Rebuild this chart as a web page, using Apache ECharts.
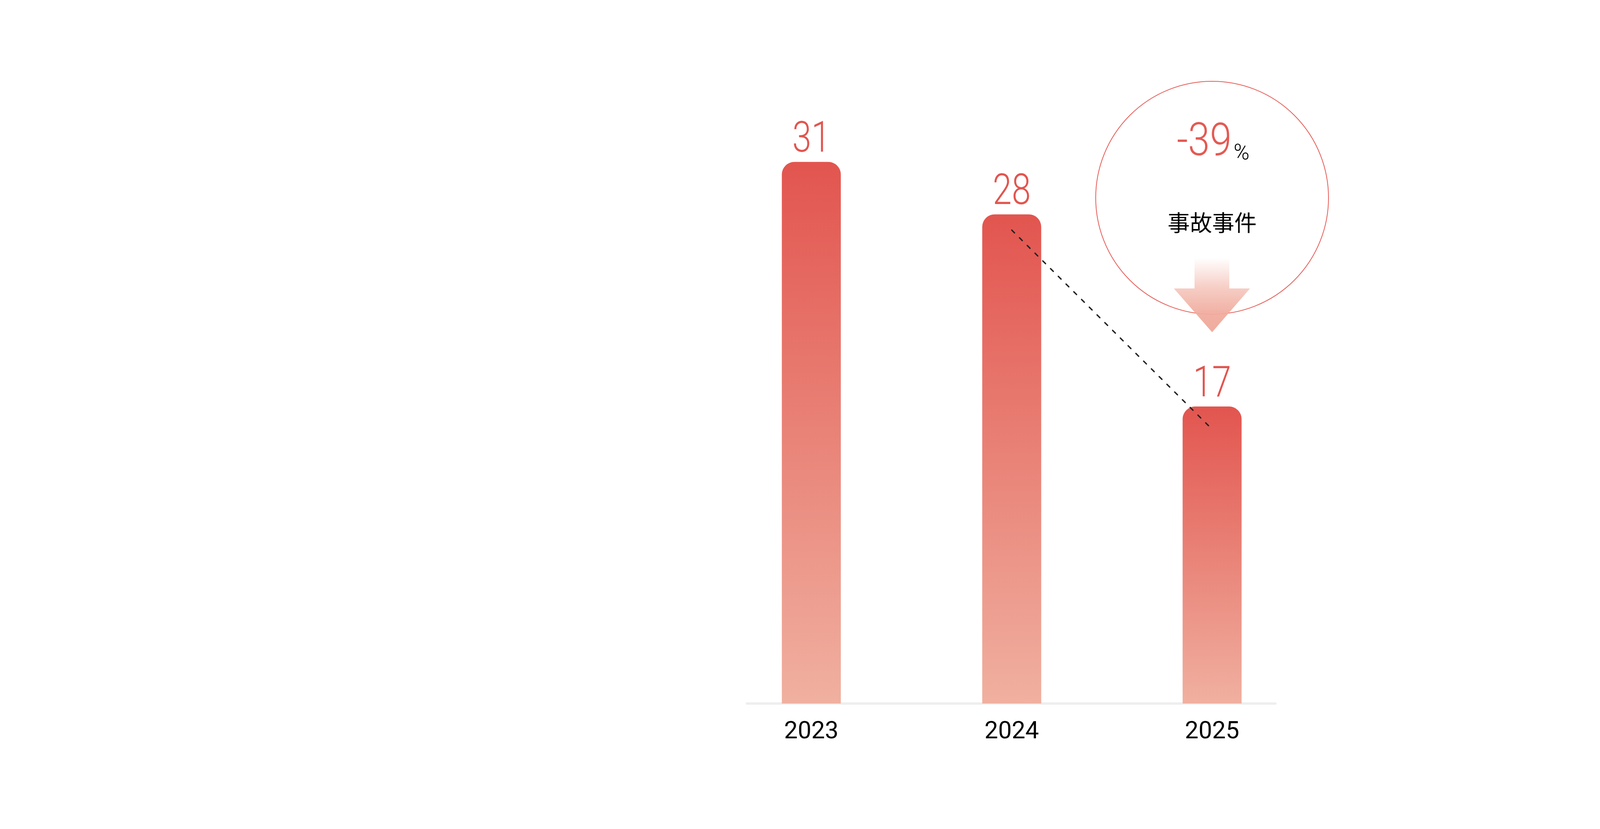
<!DOCTYPE html>
<html>
<head>
<meta charset="utf-8">
<script src="https://cdn.jsdelivr.net/npm/echarts@6/dist/echarts.min.js"></script>
<style>
html,body{margin:0;padding:0;background:#fff;}
#c{width:5167px;height:2121px;}
</style>
</head>
<body>
<div id="c"></div>
<script>
// ---- data ----
const categories = ['2023', '2024', '2025'];
const incidents = [31, 28, 17];
const trendLine = [null, 27.1, 15.7];
const changeText = '-39';
const changeUnit = '%';
const changeLabel = '事故事件';

const FONT = "Roboto,'Liberation Sans',sans-serif";
const RED = '#E2554F';

const chart = echarts.init(document.getElementById('c'));
chart.setOption({
  animation: false,
  backgroundColor: '#ffffff',
  grid: [
    { left: 1820.5, right: 1807.5, top: 12, bottom: 321 },
    { left: 1912, right: 1902, top: 12, bottom: 321 }
  ],
  xAxis: [
    {
      type: 'category', gridIndex: 0, data: categories,
      axisLine: { show: false }, axisTick: { show: false },
      axisLabel: { color: '#000', fontSize: 62, fontFamily: FONT, margin: 42 }
    },
    {
      type: 'value', gridIndex: 1, min: 0, max: 1,
      axisLine: { show: true, lineStyle: { color: '#EEEEEE', width: 6 } },
      axisTick: { show: false }, axisLabel: { show: false }, splitLine: { show: false }
    }
  ],
  yAxis: [
    { type: 'value', gridIndex: 0, min: 0, max: 40, show: false },
    { type: 'value', gridIndex: 1, min: 0, max: 1, show: false }
  ],
  series: [
    {
      type: 'bar', xAxisIndex: 0, yAxisIndex: 0, data: incidents, barWidth: 151,
      itemStyle: {
        borderRadius: [32, 32, 0, 0],
        color: new echarts.graphic.LinearGradient(0, 0, 0, 1, [
          { offset: 0, color: '#E2554F' },
          { offset: 1, color: '#F0B0A0' }
        ])
      }
    },
    {
      // value labels above the bars, narrowed to match the condensed face
      type: 'custom', xAxisIndex: 0, yAxisIndex: 0, z: 4,
      data: incidents.map((v, i) => [i, v]),
      renderItem: function (params, api) {
        const p = api.coord([api.value(0), api.value(1)]);
        return {
          type: 'text', x: p[0], y: p[1] - 54, scaleX: 0.8,
          style: {
            text: String(api.value(1)), fill: RED, fontSize: 110,
            fontFamily: FONT, fontWeight: 300, align: 'center', verticalAlign: 'middle'
          }
        };
      }
    },
    {
      type: 'line', xAxisIndex: 0, yAxisIndex: 0, data: trendLine,
      symbol: 'none', z: 5,
      lineStyle: { color: '#222', width: 3.5, type: [10, 18], cap: 'round' }
    }
  ]
});

const cx = chart.convertToPixel({ xAxisIndex: 0, yAxisIndex: 0 }, [categories[2], 0])[0];
chart.setOption({
  graphic: [
    { type: 'circle', z: 10, shape: { cx: cx, cy: 506, r: 298 },
      style: { fill: 'rgba(255,255,255,0)', stroke: '#E65E58', lineWidth: 2 } },
    { type: 'polygon', z: 11,
      shape: { points: [[cx - 45, 660], [cx + 44, 660], [cx + 44, 738], [cx + 97, 738], [cx, 850], [cx - 98, 738], [cx - 45, 738]] },
      style: {
        fill: new echarts.graphic.LinearGradient(0, 0, 0, 1, [
          { offset: 0, color: 'rgba(240,172,158,0)' },
          { offset: 0.4, color: 'rgba(240,172,158,0.6)' },
          { offset: 0.75, color: 'rgba(240,172,158,0.95)' },
          { offset: 1, color: '#F0AC9E' }
        ]),
        lineJoin: 'round'
      } },
    { type: 'text', z: 12, x: cx + 50, y: 368, scaleX: 0.86,
      style: { text: changeText, fill: '#E35A53', fontSize: 117, fontFamily: FONT, fontWeight: 300, align: 'right', verticalAlign: 'middle' } },
    { type: 'text', z: 12, x: cx + 55, y: 394,
      style: { text: changeUnit, fill: '#000', fontSize: 55, fontFamily: FONT, fontWeight: 300, align: 'left', verticalAlign: 'middle' } },
    { type: 'text', z: 12, x: cx, y: 569,
      style: { text: changeLabel, fill: '#000', fontSize: 57, fontFamily: "'Noto Sans CJK SC',sans-serif", align: 'center', verticalAlign: 'middle' } }
  ]
});
</script>
</body>
</html>
